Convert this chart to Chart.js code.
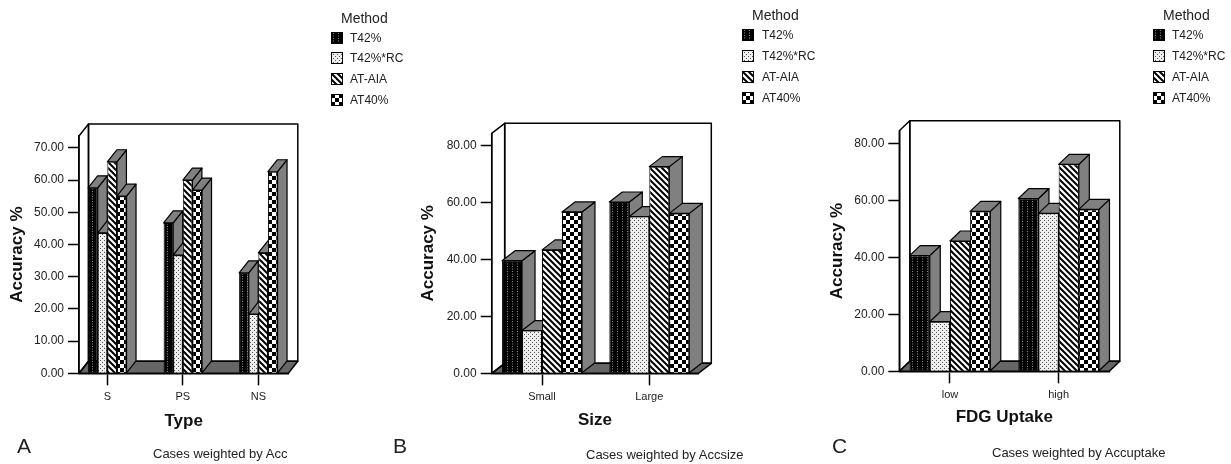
<!DOCTYPE html>
<html lang="en">

<head>
    <meta charset="UTF-8">
    <title>Accuracy by method</title>
    <script src="https://cdn.jsdelivr.net/npm/chart.js"></script>
    <style>
        body {
            margin: 0;
            background: #fff;
            font-family: "Liberation Sans", Arial, sans-serif;
            color: #222;
            width: 1231px;
            height: 464px;
            position: relative;
            overflow: hidden;
            filter: blur(0.3px);
        }

        canvas.plot {
            position: absolute;
            top: 0;
        }

        .txt {
            position: absolute;
            white-space: nowrap;
            transform: translateY(-50%);
        }

        .swatch {
            position: absolute;
        }
    </style>
</head>

<body>
    <canvas class="plot" id="chartA" width="320" height="464" style="left:0"></canvas>
    <canvas class="plot" id="chartB" width="320" height="464" style="left:410px"></canvas>
    <canvas class="plot" id="chartC" width="310" height="464" style="left:820px"></canvas>

    <script>
        const methods = ['T42%', 'T42%*RC', 'AT-AIA', 'AT40%'];

        const typeCats = ['S', 'PS', 'NS'];
        const typeTicks = [0, 10, 20, 30, 40, 50, 60, 70];
        const typeT42 = [57.6, 46.7, 31.2];
        const typeRC = [43.6, 36.7, 18.4];
        const typeAIA = [65.7, 60.0, 37.4];
        const typeAT40 = [55.0, 56.9, 62.6];

        const sizeCats = ['Small', 'Large'];
        const sizeTicks = [0, 20, 40, 60, 80];
        const sizeT42 = [39.5, 60.1];
        const sizeRC = [15.0, 55.0];
        const sizeAIA = [43.3, 72.5];
        const sizeAT40 = [56.6, 56.1];

        const fdgCats = ['low', 'high'];
        const fdgTicks = [0, 20, 40, 60, 80];
        const fdgT42 = [40.6, 60.6];
        const fdgRC = [17.4, 55.4];
        const fdgAIA = [45.7, 72.6];
        const fdgAT40 = [56.1, 56.8];

        // small repeating fills, same look as the SPSS bar patterns
        function makePattern(kind) {
            const c = document.createElement('canvas');
            const g = c.getContext('2d');
            if (kind === 0) {
                c.width = c.height = 5;
                g.fillStyle = '#000';
                g.fillRect(0, 0, 5, 5);
                g.fillStyle = '#8a8a8a';
                g.fillRect(2, 1, 1, 1);
                g.fillRect(2, 3.5, 1, 1);
            } else if (kind === 1) {
                c.width = c.height = 4;
                g.fillStyle = '#eee';
                g.fillRect(0, 0, 4, 4);
                g.fillStyle = '#555';
                g.fillRect(0, 0, 1, 1);
                g.fillRect(2, 2, 1, 1);
            } else if (kind === 2) {
                c.width = c.height = 6;
                g.fillStyle = '#fff';
                g.fillRect(0, 0, 6, 6);
                g.strokeStyle = '#000';
                g.lineWidth = 2;
                g.beginPath();
                g.moveTo(-3, 3); g.lineTo(3, 9);
                g.moveTo(0, 0); g.lineTo(6, 6);
                g.moveTo(3, -3); g.lineTo(9, 3);
                g.stroke();
            } else {
                c.width = c.height = 8;
                g.fillStyle = '#fff';
                g.fillRect(0, 0, 8, 8);
                g.fillStyle = '#000';
                g.fillRect(0, 0, 4, 4);
                g.fillRect(4, 4, 4, 4);
            }
            return g.createPattern(c, 'repeat');
        }

        const fills = [0, 1, 2, 3].map(makePattern);

        // wall, floor and the side/top faces of the bars
        const box3d = {
            id: 'box3d',
            beforeDatasetsDraw(chart, args, opts) {
                const { ctx, chartArea: a } = chart;
                const dx = opts.dx, dy = opts.dy;

                ctx.save();
                ctx.strokeStyle = '#000';
                ctx.lineJoin = 'round';

                function poly(pts, fill) {
                    ctx.beginPath();
                    pts.forEach((p, i) => i ? ctx.lineTo(p[0], p[1]) : ctx.moveTo(p[0], p[1]));
                    ctx.closePath();
                    if (fill) {
                        ctx.fillStyle = fill;
                        ctx.fill();
                    }
                    ctx.stroke();
                }

                ctx.lineWidth = 1.5;
                // floor
                poly([[a.left, a.bottom], [a.right, a.bottom], [a.right + dx, a.bottom - dy], [a.left + dx, a.bottom - dy]], '#666');
                // back wall and left wall
                poly([[a.left + dx, a.top - dy], [a.right + dx, a.top - dy], [a.right + dx, a.bottom - dy], [a.left + dx, a.bottom - dy]]);
                poly([[a.left, a.top], [a.left + dx, a.top - dy], [a.left + dx, a.bottom - dy], [a.left, a.bottom]]);

                // left to right, the fronts come after this and cover what they should
                ctx.lineWidth = 1.2;
                const n = chart.data.datasets[0].data.length;
                for (let i = 0; i < n; i++) {
                    chart.data.datasets.forEach((ds, d) => {
                        const b = chart.getDatasetMeta(d).data[i].getProps(['x', 'y', 'base', 'width']);
                        const l = b.x - b.width / 2, r = b.x + b.width / 2;
                        poly([[r, b.y], [r + dx, b.y - dy], [r + dx, b.base - dy], [r, b.base]], '#808080');
                        poly([[l, b.y], [l + dx, b.y - dy], [r + dx, b.y - dy], [r, b.y]], '#808080');
                    });
                }
                ctx.restore();
            }
        };

        function makeChart(id, cats, ticks, series, xTitle, s) {
            return new Chart(document.getElementById(id), {
                type: 'bar',
                plugins: [box3d],
                data: {
                    datasets: series.map((vals, d) => ({
                        label: methods[d],
                        data: vals.map((v, i) => ({ x: i, y: v })),
                        backgroundColor: fills[d],
                        borderColor: '#000',
                        borderWidth: 1,
                        barPercentage: 1,
                        categoryPercentage: s.groupFrac
                    }))
                },
                options: {
                    responsive: false,
                    animation: false,
                    layout: { padding: { top: s.top, right: s.right } },
                    plugins: {
                        legend: { display: false },
                        tooltip: { enabled: false },
                        box3d: { dx: s.dx, dy: s.dy }
                    },
                    scales: {
                        x: {
                            type: 'linear',
                            offset: false,
                            min: s.xMin,
                            max: s.xMax,
                            afterFit(sc) { sc.height = 464 - s.zero; },
                            afterBuildTicks(sc) { sc.ticks = cats.map((c, i) => ({ value: i })); },
                            border: { color: '#000', width: 1.5 },
                            grid: { offset: false, drawOnChartArea: false, color: '#000', tickColor: '#000', tickLength: 12, tickWidth: 1.5 },
                            ticks: {
                                autoSkip: false,
                                maxRotation: 0,
                                padding: 5,
                                color: '#222',
                                font: { family: 'Liberation Sans', size: 11 },
                                callback: v => cats[v]
                            },
                            title: {
                                display: true,
                                text: xTitle,
                                color: '#111',
                                font: { family: 'Liberation Sans', size: 17, weight: 'bold' },
                                padding: { top: 0, bottom: s.xTitlePad }
                            }
                        },
                        y: {
                            min: 0,
                            max: s.yMax,
                            afterFit(sc) { sc.width = s.yWidth; },
                            afterBuildTicks(sc) { sc.ticks = ticks.map(v => ({ value: v })); },
                            border: { color: '#000', width: 1.5 },
                            grid: { drawOnChartArea: false, color: '#000', tickColor: '#000', tickLength: 11, tickWidth: 1.5 },
                            ticks: {
                                padding: 4,
                                color: '#222',
                                font: { family: 'Liberation Sans', size: 12 },
                                callback: v => v.toFixed(2)
                            },
                            title: {
                                display: true,
                                text: 'Accuracy %',
                                color: '#111',
                                font: { family: 'Liberation Sans', size: 17, weight: 'bold' },
                                padding: { top: s.yTitlePad, bottom: 0 }
                            }
                        }
                    }
                }
            });
        }

        makeChart('chartA', typeCats, typeTicks, [typeT42, typeRC, typeAIA, typeAT40], 'Type', {
            top: 136, right: 31.7, zero: 373.3, yWidth: 79, yMax: 73.7,
            xMin: -0.375, xMax: 2.397, groupFrac: 0.509, dx: 9.5, dy: 12,
            xTitlePad: 32, yTitlePad: 7
        });
        makeChart('chartB', sizeCats, sizeTicks, [sizeT42, sizeRC, sizeAIA, sizeAT40], 'Size', {
            top: 133.3, right: 31.7, zero: 373.3, yWidth: 81.7, yMax: 84.2,
            xMin: -0.469, xMax: 1.457, groupFrac: 0.745, dx: 13, dy: 10,
            xTitlePad: 33, yTitlePad: 8
        });
        makeChart('chartC', fdgCats, fdgTicks, [fdgT42, fdgRC, fdgAIA, fdgAT40], 'FDG Uptake', {
            top: 130.7, right: 20.7, zero: 371.3, yWidth: 79.3, yMax: 84.4,
            xMin: -0.466, xMax: 1.466, groupFrac: 0.742, dx: 10.5, dy: 10,
            xTitlePad: 36, yTitlePad: 7
        });

        function addText(text, x, y, size) {
            const el = document.createElement('div');
            el.className = 'txt';
            el.textContent = text;
            el.style.left = x + 'px';
            el.style.top = y + 'px';
            el.style.fontSize = size + 'px';
            document.body.appendChild(el);
        }

        // legend: Method heading, then one row per series
        function addLegend(headX, headY, boxX, textX, rowYs) {
            addText('Method', headX, headY, 14);
            methods.forEach((m, i) => {
                const sw = document.createElement('canvas');
                sw.className = 'swatch';
                sw.width = sw.height = 12;
                sw.style.left = boxX + 'px';
                sw.style.top = (rowYs[i] - 6) + 'px';
                const g = sw.getContext('2d');
                g.fillStyle = fills[i];
                g.fillRect(0, 0, 12, 12);
                g.strokeStyle = '#000';
                g.lineWidth = 1;
                g.strokeRect(0.5, 0.5, 11, 11);
                document.body.appendChild(sw);
                addText(m, textX, rowYs[i], 12);
            });
        }

        addLegend(341, 18, 331, 350, [38, 58, 79, 100]);
        addLegend(752, 15, 742, 762, [35, 56, 77, 98]);
        addLegend(1163, 15, 1153, 1172, [35, 56, 77, 98]);

        addText('A', 17, 446, 21);
        addText('B', 393, 446, 21);
        addText('C', 832, 446, 21);
        addText('Cases weighted by Acc', 153, 453, 13);
        addText('Cases weighted by Accsize', 586, 453.5, 13);
        addText('Cases weighted by Accuptake', 992, 452, 13);
    </script>
</body>

</html>
